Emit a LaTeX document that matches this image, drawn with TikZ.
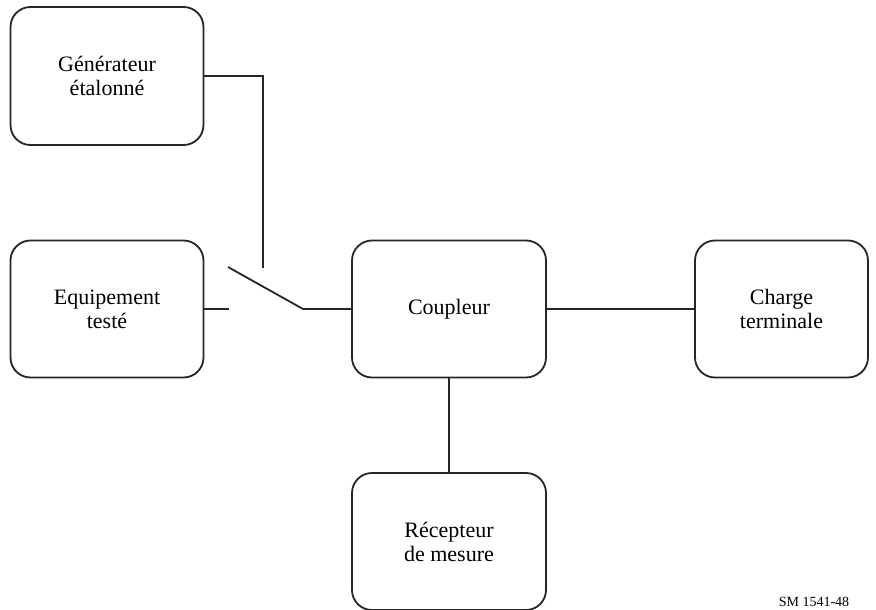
\documentclass[tikz,border=0pt]{standalone}
\usepackage{fontspec}
\setmainfont{Liberation Serif}
\begin{document}
\begin{tikzpicture}[x=1pt,y=-1pt,
  box/.style={draw=black!85, line width=1.8pt, rounded corners=20pt, align=center,
    font=\fontsize{22}{24}\selectfont, inner sep=0pt},
  wire/.style={draw=black!85, line width=1.8pt}]
\useasboundingbox (0,0) rectangle (876,610);
\clip (0,0) rectangle (876,610);
\node[box, minimum width=193pt, minimum height=138pt] (gen) at (107,76) {Générateur\\étalonné};
\node[box, minimum width=193pt, minimum height=137pt] (equ) at (107,309) {Equipement\\testé};
\node[box, minimum width=194pt, minimum height=137pt] (coup) at (449,309) {Coupleur};
\node[box, minimum width=173pt, minimum height=137pt] (charge) at (781.5,309) {Charge\\terminale};
\node[box, minimum width=194pt, minimum height=137pt] (rec) at (449,541.5) {Récepteur\\de mesure};
\coordinate (gtop) at (263,268);
\coordinate (lead) at (229,309);
\coordinate (blade) at (228,267);
\coordinate (pivot) at (303,309);
\draw[wire] (gen.east) -| (gtop);
\draw[wire] (equ.east |- lead) -- (lead);
\draw[wire] (blade) -- (pivot) -- (coup.west |- pivot);
\draw[wire] (coup.east) -- (charge.west);
\draw[wire] (coup.south) -- (rec.north);
\node[font=\fontsize{14}{16}\selectfont, anchor=base] (sm) at (814,606) {SM 1541-48};
\end{tikzpicture}
\end{document}
